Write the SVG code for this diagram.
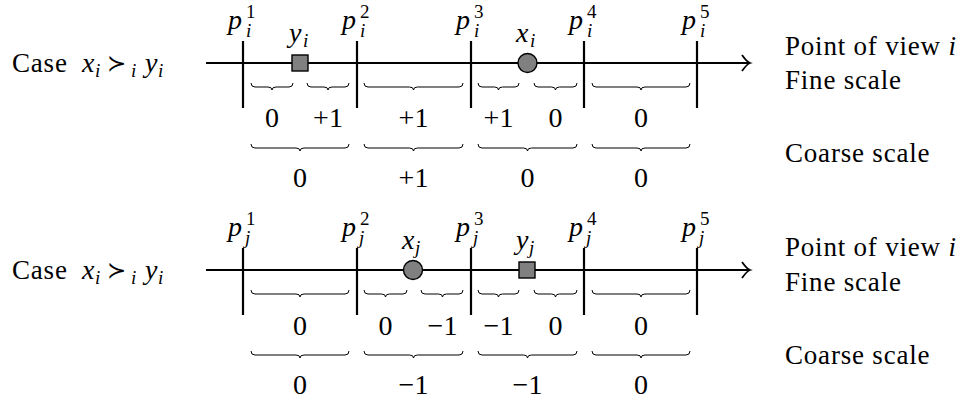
<svg xmlns="http://www.w3.org/2000/svg" width="975" height="399" viewBox="0 0 975 399" font-family="'Liberation Serif', 'Times New Roman', 'DejaVu Serif', serif">
<style>
text{font-family:"Liberation Serif","Times New Roman","DejaVu Serif",serif;fill:#000}
.t{font-size:27px;letter-spacing:0.8px}
.n{font-size:28px;text-anchor:middle}
.m{font-style:italic}
.mv{font-size:28px;font-style:italic}
.s{font-size:19px;font-style:italic}
.sr{font-size:19px}
.rel{font-size:23px}
.axis{stroke:#000;stroke-width:1.8;fill:none}
.tick{stroke:#000;stroke-width:2.2}
.brace{stroke:#000;stroke-width:1;fill:none}
.pt{fill:#808080;stroke:#000;stroke-width:1.4}
</style>
<defs>
<path id="arrowhead" d="M-8,-8 Q-3,-1 0,0 Q-3,1 -8,8" class="axis"/>
</defs>

<!-- ===== Row 1 ===== -->
<g id="row1-case">
<text class="t" x="12" y="72">Case</text>
<text class="mv" x="82" y="72">x</text><text class="s" x="95" y="77">i</text>
<text class="rel" x="107" y="71">≻</text><text class="s" x="131" y="77">i</text>
<text class="mv" x="145" y="72">y</text><text class="s" x="158" y="77">i</text>
</g>
<g id="row1-connectors">
<line class="axis" x1="206" y1="63" x2="749" y2="63"/>
<use href="#arrowhead" x="750" y="63"/>
<line class="tick" x1="243" y1="41" x2="243" y2="108"/>
<line class="tick" x1="357" y1="41" x2="357" y2="108"/>
<line class="tick" x1="471" y1="41" x2="471" y2="108"/>
<line class="tick" x1="584" y1="41" x2="584" y2="108"/>
<line class="tick" x1="697" y1="41" x2="697" y2="108"/>
</g>
<g id="row1-p-labels">
<text class="mv" x="228" y="29">p</text><text class="sr" x="246" y="18">1</text><text class="s" x="246" y="37">i</text>
<text class="mv" x="342" y="29">p</text><text class="sr" x="360" y="18">2</text><text class="s" x="360" y="37">i</text>
<text class="mv" x="456" y="29">p</text><text class="sr" x="474" y="18">3</text><text class="s" x="474" y="37">i</text>
<text class="mv" x="569" y="29">p</text><text class="sr" x="587" y="18">4</text><text class="s" x="587" y="37">i</text>
<text class="mv" x="682" y="29">p</text><text class="sr" x="700" y="18">5</text><text class="s" x="700" y="37">i</text>
</g>
<g id="row1-y">
<rect class="pt" x="292" y="55" width="16" height="16"/>
<text class="mv" x="289" y="42">y</text><text class="s" x="303" y="47">i</text>
</g>
<g id="row1-x">
<circle class="pt" cx="527.5" cy="63" r="9.5"/>
<text class="mv" x="516" y="42">x</text><text class="s" x="530" y="47">i</text>
</g>
<g id="row1-fine">
<path class="brace" d="M251,83 Q251,87 255,87 L268,87 Q272,87 272,90 Q272,87 276,87 L289,87 Q293,87 293,83"/>
<path class="brace" d="M307,83 Q307,87 311,87 L324,87 Q328,87 328,90 Q328,87 332,87 L345,87 Q349,87 349,83"/>
<path class="brace" d="M364,83 Q364,87 368,87 L409.5,87 Q413.5,87 413.5,90 Q413.5,87 417.5,87 L459,87 Q463,87 463,83"/>
<path class="brace" d="M478,83 Q478,87 482,87 L494.5,87 Q498.5,87 498.5,90 Q498.5,87 502.5,87 L515,87 Q519,87 519,83"/>
<path class="brace" d="M534,83 Q534,87 538,87 L551.5,87 Q555.5,87 555.5,90 Q555.5,87 559.5,87 L573,87 Q577,87 577,83"/>
<path class="brace" d="M592,83 Q592,87 596,87 L637,87 Q641,87 641,90 Q641,87 645,87 L686,87 Q690,87 690,83"/>
<text class="n" x="272" y="127">0</text>
<text class="n" x="328" y="127">+1</text>
<text class="n" x="413.5" y="127">+1</text>
<text class="n" x="498.5" y="127">+1</text>
<text class="n" x="555.5" y="127">0</text>
<text class="n" x="641" y="127">0</text>
</g>
<g id="row1-coarse">
<path class="brace" d="M251,144 Q251,148 255,148 L296,148 Q300,148 300,151 Q300,148 304,148 L345,148 Q349,148 349,144"/>
<path class="brace" d="M364,144 Q364,148 368,148 L409.5,148 Q413.5,148 413.5,151 Q413.5,148 417.5,148 L459,148 Q463,148 463,144"/>
<path class="brace" d="M478,144 Q478,148 482,148 L523.5,148 Q527.5,148 527.5,151 Q527.5,148 531.5,148 L573,148 Q577,148 577,144"/>
<path class="brace" d="M592,144 Q592,148 596,148 L637,148 Q641,148 641,151 Q641,148 645,148 L686,148 Q690,148 690,144"/>
<text class="n" x="300" y="187">0</text>
<text class="n" x="413.5" y="187">+1</text>
<text class="n" x="527.5" y="187">0</text>
<text class="n" x="641" y="187">0</text>
</g>
<g id="row1-legend">
<text class="t" x="785" y="55">Point of view <tspan class="m">i</tspan></text>
<text class="t" x="785" y="89">Fine scale</text>
<text class="t" x="785" y="162">Coarse scale</text>
</g>

<!-- ===== Row 2 ===== -->
<g id="row2-case">
<text class="t" x="12" y="279">Case</text>
<text class="mv" x="82" y="279">x</text><text class="s" x="95" y="284">i</text>
<text class="rel" x="107" y="278">≻</text><text class="s" x="131" y="284">i</text>
<text class="mv" x="145" y="279">y</text><text class="s" x="158" y="284">i</text>
</g>
<g id="row2-connectors">
<line class="axis" x1="206" y1="270" x2="749" y2="270"/>
<use href="#arrowhead" x="750" y="270"/>
<line class="tick" x1="243" y1="248" x2="243" y2="315"/>
<line class="tick" x1="357" y1="248" x2="357" y2="315"/>
<line class="tick" x1="471" y1="248" x2="471" y2="315"/>
<line class="tick" x1="584" y1="248" x2="584" y2="315"/>
<line class="tick" x1="697" y1="248" x2="697" y2="315"/>
</g>
<g id="row2-p-labels">
<text class="mv" x="228" y="236">p</text><text class="sr" x="246" y="225">1</text><text class="s" x="245" y="244">j</text>
<text class="mv" x="342" y="236">p</text><text class="sr" x="360" y="225">2</text><text class="s" x="359" y="244">j</text>
<text class="mv" x="456" y="236">p</text><text class="sr" x="474" y="225">3</text><text class="s" x="473" y="244">j</text>
<text class="mv" x="569" y="236">p</text><text class="sr" x="587" y="225">4</text><text class="s" x="586" y="244">j</text>
<text class="mv" x="682" y="236">p</text><text class="sr" x="700" y="225">5</text><text class="s" x="699" y="244">j</text>
</g>
<g id="row2-x">
<circle class="pt" cx="413" cy="270" r="9.5"/>
<text class="mv" x="402" y="249">x</text><text class="s" x="415" y="254">j</text>
</g>
<g id="row2-y">
<rect class="pt" x="519" y="262" width="16" height="16"/>
<text class="mv" x="516" y="249">y</text><text class="s" x="529" y="254">j</text>
</g>
<g id="row2-fine">
<path class="brace" d="M251,290 Q251,294 255,294 L296,294 Q300,294 300,297 Q300,294 304,294 L345,294 Q349,294 349,290"/>
<path class="brace" d="M364,290 Q364,294 368,294 L381.5,294 Q385.5,294 385.5,297 Q385.5,294 389.5,294 L403,294 Q407,294 407,290"/>
<path class="brace" d="M421,290 Q421,294 425,294 L438.5,294 Q442.5,294 442.5,297 Q442.5,294 446.5,294 L459,294 Q463,294 463,290"/>
<path class="brace" d="M478,290 Q478,294 482,294 L494.5,294 Q498.5,294 498.5,297 Q498.5,294 502.5,294 L515,294 Q519,294 519,290"/>
<path class="brace" d="M534,290 Q534,294 538,294 L551.5,294 Q555.5,294 555.5,297 Q555.5,294 559.5,294 L573,294 Q577,294 577,290"/>
<path class="brace" d="M592,290 Q592,294 596,294 L637,294 Q641,294 641,297 Q641,294 645,294 L686,294 Q690,294 690,290"/>
<text class="n" x="300" y="335">0</text>
<text class="n" x="385.5" y="335">0</text>
<text class="n" x="442.5" y="335">−1</text>
<text class="n" x="498.5" y="335">−1</text>
<text class="n" x="555.5" y="335">0</text>
<text class="n" x="641" y="335">0</text>
</g>
<g id="row2-coarse">
<path class="brace" d="M251,351 Q251,355 255,355 L296,355 Q300,355 300,358 Q300,355 304,355 L345,355 Q349,355 349,351"/>
<path class="brace" d="M364,351 Q364,355 368,355 L409.5,355 Q413.5,355 413.5,358 Q413.5,355 417.5,355 L459,355 Q463,355 463,351"/>
<path class="brace" d="M478,351 Q478,355 482,355 L523.5,355 Q527.5,355 527.5,358 Q527.5,355 531.5,355 L573,355 Q577,355 577,351"/>
<path class="brace" d="M592,351 Q592,355 596,355 L637,355 Q641,355 641,358 Q641,355 645,355 L686,355 Q690,355 690,351"/>
<text class="n" x="300" y="394">0</text>
<text class="n" x="413.5" y="394">−1</text>
<text class="n" x="527.5" y="394">−1</text>
<text class="n" x="641" y="394">0</text>
</g>
<g id="row2-legend">
<text class="t" x="785" y="256">Point of view <tspan class="m">i</tspan></text>
<text class="t" x="785" y="291">Fine scale</text>
<text class="t" x="785" y="364">Coarse scale</text>
</g>
</svg>
